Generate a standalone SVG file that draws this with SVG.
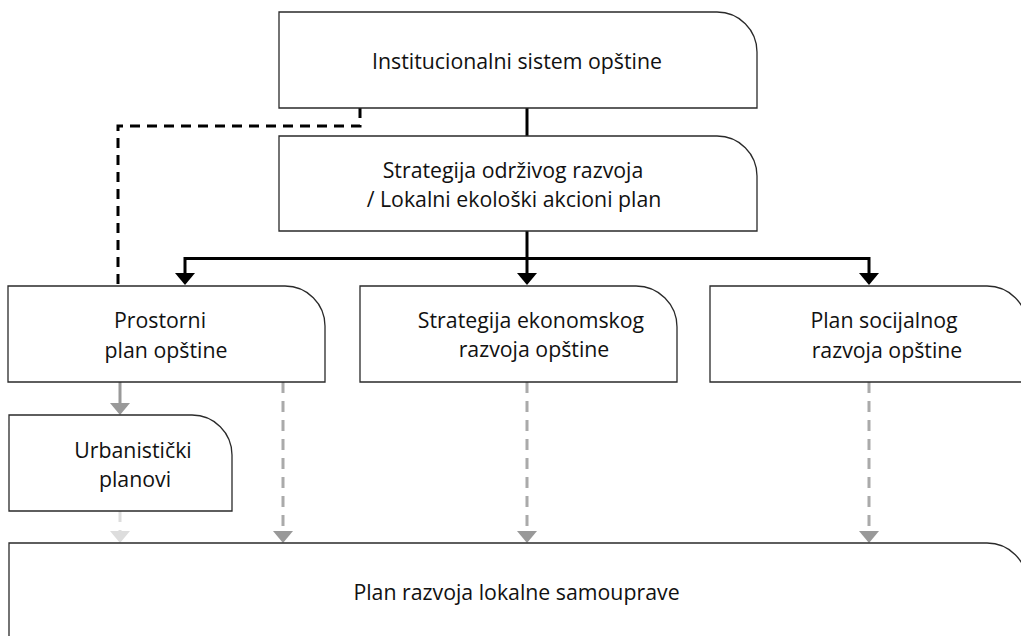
<svg xmlns="http://www.w3.org/2000/svg" width="1021" height="636" viewBox="0 0 1021 636">
<style>
.box{fill:#fff;stroke:#2a2a2a;stroke-width:1.3}
.t{font-family:"Open Sans","Liberation Sans",sans-serif;font-size:21.3px;fill:#111;text-anchor:middle}
.blk{fill:none;stroke:#000;stroke-width:3}
.blkd{fill:none;stroke:#000;stroke-width:3;stroke-dasharray:10 7}
.gs{fill:none;stroke:#999;stroke-width:3}
.gd{fill:none;stroke:#aaa;stroke-width:3;stroke-dasharray:11 8}
.ld{fill:none;stroke:#ddd;stroke-width:3;stroke-dasharray:11 8}
</style>
<defs>
<marker id="aBlack" viewBox="0 0 12 20" markerWidth="12" markerHeight="20" markerUnits="userSpaceOnUse" refX="0" refY="10" orient="auto"><path d="M0,0 L12,10 L0,20 Z" fill="#000"/></marker>
<marker id="aGrey" viewBox="0 0 12 20" markerWidth="12" markerHeight="20" markerUnits="userSpaceOnUse" refX="0" refY="10" orient="auto"><path d="M0,0 L12,10 L0,20 Z" fill="#999"/></marker>
<marker id="aLight" viewBox="0 0 12 20" markerWidth="12" markerHeight="20" markerUnits="userSpaceOnUse" refX="0" refY="10" orient="auto"><path d="M0,0 L12,10 L0,20 Z" fill="#ddd"/></marker>
</defs>
<rect width="1021" height="636" fill="#fff"/>
<g id="connectors">
<path class="blk" d="M527,108 V136"/>
<path class="blk" d="M527,231 V273" marker-end="url(#aBlack)"/>
<path class="blk" d="M527,258.5 H185 V273" marker-end="url(#aBlack)"/>
<path class="blk" d="M527,258.5 H869 V273" marker-end="url(#aBlack)"/>
<path class="blkd" d="M360,108 V126 H118 V286"/>
<path class="gs" d="M120,382 V403" marker-end="url(#aGrey)"/>
<path class="gd" d="M283,382 V531" marker-end="url(#aGrey)"/>
<path class="gd" d="M527,382 V531" marker-end="url(#aGrey)"/>
<path class="gd" d="M869,382 V531" marker-end="url(#aGrey)"/>
<path class="ld" d="M120,511 V531" marker-end="url(#aLight)"/>
</g>
<g id="n1">
<path class="box" d="M279,12 H717 A40,40 0 0 1 757,52 V108 H279 Z"/>
<text class="t" x="517" y="69">Institucionalni sistem opštine</text>
</g>
<g id="n2">
<path class="box" d="M279,136 H717 A40,40 0 0 1 757,176 V231 H279 Z"/>
<text class="t" x="513" y="178">Strategija održivog razvoja</text>
<text class="t" x="514" y="207">/ Lokalni ekološki akcioni plan</text>
</g>
<g id="n3">
<path class="box" d="M8,286 H285 A40,40 0 0 1 325,326 V382 H8 Z"/>
<text class="t" x="160" y="328">Prostorni</text>
<text class="t" x="166" y="358">plan opštine</text>
</g>
<g id="n4">
<path class="box" d="M360,286 H636 A41,41 0 0 1 677,327 V382 H360 Z"/>
<text class="t" x="531" y="328">Strategija ekonomskog</text>
<text class="t" x="534" y="357">razvoja opštine</text>
</g>
<g id="n5">
<path class="box" d="M710,286 H987 A40,40 0 0 1 1027,326 V382 H710 Z"/>
<text class="t" x="884" y="328">Plan socijalnog</text>
<text class="t" x="887" y="358">razvoja opštine</text>
</g>
<g id="n6">
<path class="box" d="M9,415 H192 A40,40 0 0 1 232,455 V511 H9 Z"/>
<text class="t" x="133" y="458">Urbanistički</text>
<text class="t" x="135" y="487">planovi</text>
</g>
<g id="n7">
<path class="box" d="M9,543 H987 A40,40 0 0 1 1027,583 V700 H9 Z"/>
<text class="t" x="516.5" y="600">Plan razvoja lokalne samouprave</text>
</g>
</svg>
